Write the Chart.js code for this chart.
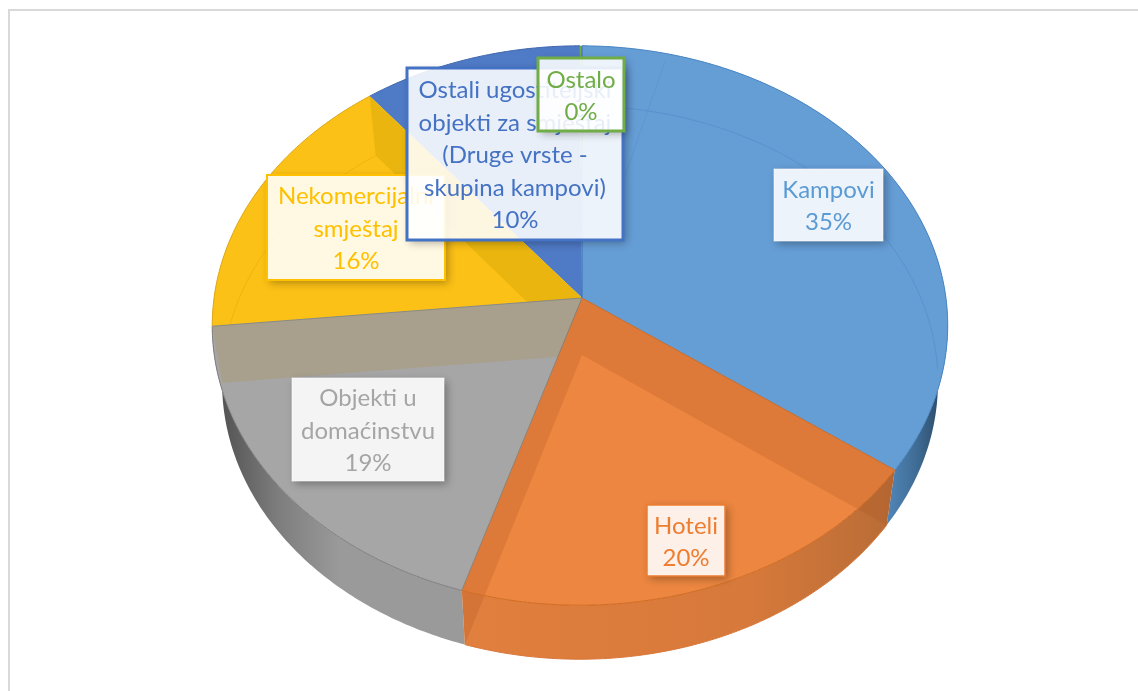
<!DOCTYPE html>
<html>
<head>
<meta charset="utf-8">
<title>Pie</title>
<script src="https://cdn.jsdelivr.net/npm/chart.js@4"></script>
<style>
    html, body { margin: 0; background: #fff; overflow: hidden; }
    #wrap { position: relative; width: 1138px; height: 691px; }
    #frame { position: absolute; left: 8px; top: 9px; right: 0; bottom: 0; border-left: 2px solid #d9d9d9; border-top: 2px solid #d9d9d9; }
    canvas { position: absolute; left: 0; top: 0; }
</style>
</head>
<body>
<div id="wrap">
    <div id="frame"></div>
    <canvas id="myChart" width="1138" height="691"></canvas>
</div>
<script>
const categories = ['Kampovi', 'Hoteli', 'Objekti u domaćinstvu', 'Nekomercijalni smještaj', 'Ostali ugostiteljski objekti za smještaj (Druge vrste - skupina kampovi)', 'Ostalo'];
// slice sizes, the printed percentages are rounded
const values = [35, 19.8, 18.6, 15.9, 10.6, 0.1];
const percentLabels = ['35%', '20%', '19%', '16%', '10%', '0%'];
const labelLines = [
    ['Kampovi'],
    ['Hoteli'],
    ['Objekti u', 'domaćinstvu'],
    ['Nekomercijalni', 'smještaj'],
    ['Ostali ugostiteljski', 'objekti za smještaj', '(Druge vrste -', 'skupina kampovi)'],
    ['Ostalo']
];
const colors = ['#659dd5', '#ec8640', '#a6a6a6', '#fcc116', '#4f7ac5', '#70ad47'];
const textColors = ['#5b9bd5', '#ed7d31', '#a5a5a5', '#ffc000', '#4472c4', '#70ad47'];
const borderColors = ['rgba(255, 255, 255, 0.6)', '#ed7d31', 'rgba(255, 255, 255, 0.6)', '#ffc000', '#4472c4', '#70ad47'];

// label boxes: left, top, right, bottom, border width
const labelBoxes = [
    [774, 169, 883, 241, 1],
    [647, 505, 725, 576, 1.5],
    [292, 378, 444, 481, 1],
    [267, 175, 445, 280, 2],
    [407, 68, 623, 240, 3],
    [538, 58, 624, 131, 3]
];

// tilted disc: perspective view of the top face and of the base, in pie radii
const topView = { a: 1.228, b: 0.9295, p: 0.0984, q: 0.0055, dy: 0 };
const baseView = { a: 1.195, b: 0.919, p: 0.1, q: 0.0055, dy: 0.191 };

const pt = (arc, view, theta, r = 1) => {
    const u = r * Math.sin(theta),
        v = r * Math.cos(theta),
        d = 1 + view.p * v + view.q * u,
        R = arc.outerRadius;
    return [arc.x + R * view.a * u / d, arc.y + R * (view.dy - view.b * v / d)];
};

const arcPath = (ctx, arc, view, t0, t1, move) => {
    const steps = Math.max(2, Math.ceil(Math.abs(t1 - t0) * 90));
    for (let i = 0; i <= steps; i++) {
        const p = pt(arc, view, t0 + (t1 - t0) * i / steps);
        if (i === 0 && move) ctx.moveTo(p[0], p[1]);
        else ctx.lineTo(p[0], p[1]);
    }
};

const angles = arc => [arc.startAngle + Math.PI / 2, arc.endAngle + Math.PI / 2];

const fillSector = (ctx, arc, color) => {
    const [t0, t1] = angles(arc), c = pt(arc, topView, 0, 0);
    ctx.beginPath();
    ctx.moveTo(c[0], c[1]);
    arcPath(ctx, arc, topView, t0, t1);
    ctx.closePath();
    ctx.fillStyle = color;
    ctx.fill();
};

const fillWall = (ctx, arc, stops) => {
    const [t0, t1] = angles(arc);
    const g = ctx.createLinearGradient(stops[0], 0, stops[1], 0);
    stops[2].forEach((s, i) => g.addColorStop(i / (stops[2].length - 1), s));
    ctx.beginPath();
    arcPath(ctx, arc, topView, t0, t1, true);
    arcPath(ctx, arc, baseView, t1, t0);
    ctx.closePath();
    ctx.fillStyle = g;
    ctx.fill();
};

// the cut face of a slice, seen through the top
const fillCut = (ctx, arc, theta, color) => {
    const a = pt(arc, topView, 0, 0), b = pt(arc, topView, theta), c = pt(arc, baseView, theta), d = pt(arc, baseView, 0, 0);
    ctx.beginPath();
    ctx.moveTo(a[0], a[1]);
    ctx.lineTo(b[0], b[1]);
    ctx.lineTo(c[0], c[1]);
    ctx.lineTo(d[0], d[1]);
    ctx.closePath();
    ctx.fillStyle = color;
    ctx.fill();
};

const strokeArc = (ctx, arc, view, t0, t1, color, width = 1) => {
    ctx.beginPath();
    arcPath(ctx, arc, view, t0, t1, true);
    ctx.strokeStyle = color;
    ctx.lineWidth = width;
    ctx.stroke();
};

const strokeEdge = (ctx, arc, theta, color) => {
    const a = pt(arc, topView, 0, 0), b = pt(arc, topView, theta);
    ctx.beginPath();
    ctx.moveTo(a[0], a[1]);
    ctx.lineTo(b[0], b[1]);
    ctx.strokeStyle = color;
    ctx.lineWidth = 1;
    ctx.stroke();
};

const tiltedPie = {
    id: 'tiltedPie',
    beforeDatasetsDraw(chart) {
        const ctx = chart.ctx, arcs = chart.getDatasetMeta(0).data;
        const [kampovi, hoteli, objekti, nekom, ostali, ostalo] = arcs;
        ctx.save();

        // outer walls
        fillWall(ctx, kampovi, [885, 948, ['#5288bb', '#3f6c95', '#27415a']]);
        fillWall(ctx, objekti, [216, 340, ['#4f4f4f', '#7d7d7d', '#9a9a9a']]);
        fillWall(ctx, hoteli, [470, 895, ['#e07f3e', '#dc7c3c', '#d6793b', '#b86c36']]);

        // top faces with the cut faces over them
        fillSector(ctx, kampovi, colors[0]);
        fillSector(ctx, ostali, colors[4]);
        fillSector(ctx, ostalo, colors[5]);
        fillSector(ctx, nekom, colors[3]);
        strokeArc(ctx, nekom, baseView, angles(nekom)[0] - 0.02, angles(nekom)[1], 'rgba(200, 140, 0, 0.25)');
        fillCut(ctx, nekom, angles(nekom)[1], '#e9b50e');
        fillSector(ctx, objekti, colors[2]);
        fillCut(ctx, objekti, angles(objekti)[1], '#a8a08d');
        fillSector(ctx, hoteli, colors[1]);
        fillCut(ctx, hoteli, angles(hoteli)[0], 'rgba(170, 80, 30, 0.22)');
        fillCut(ctx, hoteli, angles(hoteli)[1], 'rgba(170, 80, 30, 0.22)');

        // base edge showing through, faint
        strokeArc(ctx, kampovi, baseView, 0.13, 1.62, 'rgba(50, 110, 180, 0.25)');
        const fa = pt(kampovi, topView, 0.26, 0.46), fb = pt(kampovi, topView, 0.26, 0.97);
        ctx.beginPath();
        ctx.moveTo(fa[0], fa[1]);
        ctx.lineTo(fb[0], fb[1]);
        ctx.strokeStyle = 'rgba(50, 110, 180, 0.14)';
        ctx.lineWidth = 1;
        ctx.stroke();

        // rims
        strokeArc(ctx, kampovi, topView, angles(kampovi)[0], angles(kampovi)[1], '#4a87c4');
        strokeArc(ctx, hoteli, topView, angles(hoteli)[0], angles(hoteli)[1], '#cf6a1f');
        strokeArc(ctx, objekti, topView, angles(objekti)[0], angles(objekti)[1], '#7f7f7f');
        strokeArc(ctx, nekom, topView, angles(nekom)[0], angles(nekom)[1], '#d9a511');
        strokeArc(ctx, ostali, topView, angles(ostali)[0], angles(ostali)[1], '#3e66ad');
        strokeArc(ctx, hoteli, baseView, angles(hoteli)[0], angles(hoteli)[1], '#d9773a');
        strokeEdge(ctx, hoteli, angles(hoteli)[0], '#c26a2b');
        strokeEdge(ctx, hoteli, angles(hoteli)[1], '#8f7d6c');
        strokeEdge(ctx, objekti, angles(objekti)[1], '#8a8a80');
        strokeEdge(ctx, kampovi, angles(kampovi)[0], '#3e6fb3');

        ctx.restore();
        return false;
    },
    afterDraw(chart) {
        const ctx = chart.ctx;
        ctx.save();
        labelBoxes.forEach(([l, t, r, b, w], i) => {
            // shadow only outside the box, otherwise it greys the see-through fill
            ctx.save();
            ctx.beginPath();
            ctx.rect(0, 0, chart.width, chart.height);
            ctx.rect(l, t, r - l, b - t);
            ctx.clip('evenodd');
            ctx.shadowColor = 'rgba(0, 0, 0, 0.3)';
            ctx.shadowBlur = 8;
            ctx.shadowOffsetX = 3;
            ctx.shadowOffsetY = 3;
            ctx.fillStyle = '#fff';
            ctx.fillRect(l, t, r - l, b - t);
            ctx.restore();

            ctx.fillStyle = 'rgba(255, 255, 255, 0.88)';
            ctx.fillRect(l, t, r - l, b - t);
            ctx.strokeStyle = borderColors[i];
            ctx.lineWidth = w;
            ctx.strokeRect(l, t, r - l, b - t);

            const lines = labelLines[i].concat(percentLabels[i]);
            const lineGap = 32.4, mid = (t + b) / 2 + 1.5;
            ctx.font = '24px Lato';
            ctx.fillStyle = textColors[i];
            ctx.textAlign = 'center';
            ctx.textBaseline = 'middle';
            lines.forEach((s, n) => {
                ctx.fillText(s, (l + r) / 2, mid + (n - (lines.length - 1) / 2) * lineGap);
            });
        });
        ctx.restore();
    }
};

const myChart = new Chart(document.getElementById('myChart'), {
    type: 'pie',
    data: {
        labels: categories,
        datasets: [{
            data: values,
            backgroundColor: colors,
            borderWidth: 0
        }]
    },
    options: {
        responsive: false,
        animation: false,
        layout: { padding: { left: 26, right: 0, top: 0, bottom: 95 } },
        plugins: {
            legend: { display: false },
            tooltip: { enabled: false }
        }
    },
    plugins: [tiltedPie]
});
</script>
</body>
</html>
